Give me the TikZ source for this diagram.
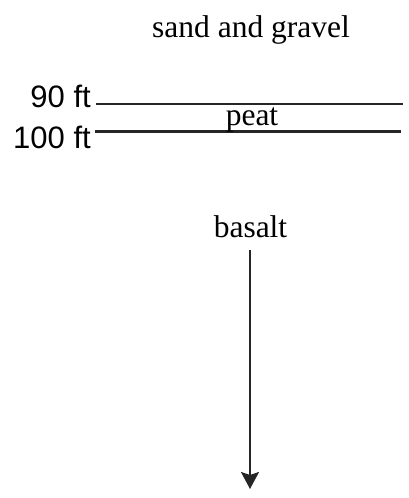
\documentclass[tikz,border=0pt]{standalone}
\usepackage{fontspec}
\setmainfont{Liberation Serif}
\newfontfamily\labelsans{Liberation Sans}
\usetikzlibrary{arrows.meta}
\tikzset{
  layertext/.style={inner sep=0pt, anchor=base, font=\fontsize{31.5}{31.5}\selectfont},
  depthtext/.style={inner sep=0pt, anchor=base east, font=\labelsans\fontsize{31}{31}\selectfont},
  boundary/.style={line width=2.5pt, draw=black!85},
  downarrow/.style={line width=2.2pt, draw=black!85, -{Stealth[length=17pt,width=18pt,inset=3pt,fill=black!85]}}
}
\begin{document}
\begin{tikzpicture}[x=1pt,y=-1pt]
\useasboundingbox (0,0) rectangle (409,498);
\node[layertext] (sand) at (251,37) {sand and gravel};
\node[depthtext] (d90) at (91,107) {90 ft};
\node[depthtext] (d100) at (91,148) {100 ft};
\coordinate (t1) at (96,104);
\coordinate (t2) at (403,104);
\coordinate (b1) at (95,131.5);
\coordinate (b2) at (401,131.5);
\draw[boundary] (t1) -- (t2);
\draw[boundary] (b1) -- (b2);
\node[layertext] (peat) at (252,125) {peat};
\node[layertext] (basalt) at (250.5,237) {basalt};
\coordinate (a1) at (250,250);
\coordinate (a2) at (250,489);
\draw[downarrow] (a1) -- (a2);
\end{tikzpicture}
\end{document}
